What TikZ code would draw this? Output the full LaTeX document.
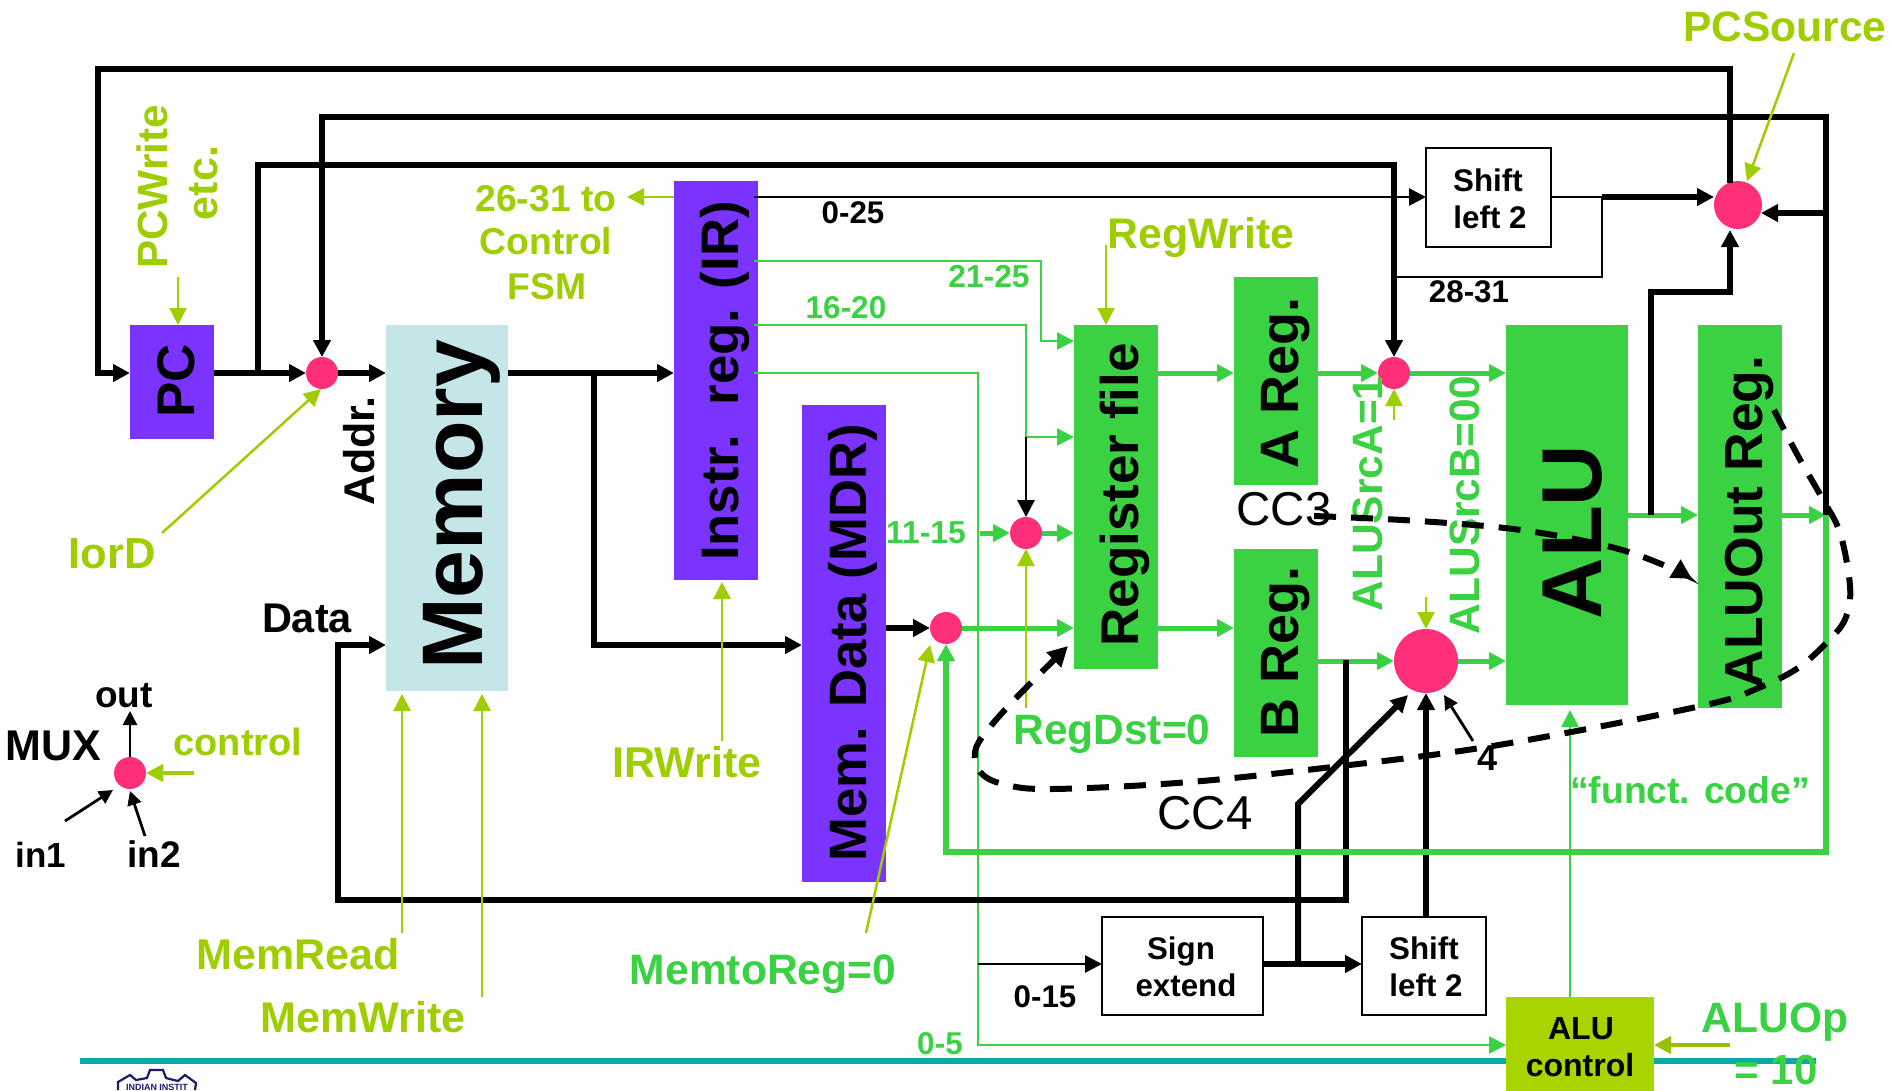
\documentclass[tikz,border=0pt]{standalone}
\usepackage{fontspec}
\setmainfont{Liberation Sans}
\usetikzlibrary{arrows.meta}
\definecolor{pur}{HTML}{7B33FF}
\definecolor{grn}{HTML}{3AD242}
\definecolor{lim}{HTML}{9FCE00}
\definecolor{aluctl}{HTML}{A8D500}
\definecolor{pnk}{HTML}{FF3079}
\definecolor{memc}{HTML}{C4E6E8}
\definecolor{tealc}{HTML}{0AA9A9}
\definecolor{navy}{HTML}{1A1A6E}
\tikzset{
  bx/.style={inner sep=0pt,outer sep=0pt,draw=none},
  whbx/.style={inner sep=0pt,outer sep=0pt,draw=black,line width=2.5pt,fill=white},
  mux/.style={circle,fill=pnk,inner sep=0pt,outer sep=0pt,minimum size=#1},
  lb/.style={inner sep=0pt,outer sep=0pt,anchor=base,font=\fontsize{#1}{#1}\selectfont\bfseries},
  lbreg/.style={inner sep=0pt,outer sep=0pt,anchor=base,font=\fontsize{#1}{#1}\selectfont},
  rl/.style={lb=#1,rotate=90},
  tip/.style={-{Triangle[length=17pt,width=17pt]}},
  smalltip/.style={-{Triangle[length=14pt,width=14pt]}},
  thk/.style={line width=6pt,black},
  thn/.style={line width=2.8pt,black},
  hair/.style={line width=2pt,black},
  gthk/.style={line width=6pt,grn},
  gmid/.style={line width=5pt,grn},
  gthn/.style={line width=2.5pt,grn},
  ctl/.style={line width=2.5pt,lim},
  dsh/.style={line width=6pt,black,dash pattern=on 22pt off 15pt},
}
\begin{document}
\begin{tikzpicture}[x=1pt,y=-1pt,line join=miter,line cap=butt]
\useasboundingbox (0,0) rectangle (1893,1090);
\fill[white] (0,0) rectangle (1893,1090);
% footer rule and logo
\coordinate (ruleL) at (80,1061);
\coordinate (ruleR) at (1816,1061);
\draw[line width=6pt,tealc] (ruleL) -- (ruleR);
\draw[line width=2.2pt,navy] (118,1090) -- (118,1082) -- (130,1075) -- (136,1080) -- (147,1078) -- (150,1070) -- (163,1070) -- (166,1078) -- (178,1081) -- (185,1075) -- (196,1083) -- (195,1090);
\node[lb=9,text=navy] (logotext) at (157,1090) {INDIAN INSTIT};
% boxes
\node[bx,fill=pur,minimum width=84pt,minimum height=114pt] (pc) at (172,382) {};
\node[bx,fill=memc,minimum width=122pt,minimum height=366pt] (mem) at (447,508) {};
\node[bx,fill=pur,minimum width=84pt,minimum height=399pt] (ir) at (716,380.5) {};
\node[bx,fill=pur,minimum width=84pt,minimum height=477pt] (mdr) at (844,643.5) {};
\node[bx,fill=grn,minimum width=84pt,minimum height=344pt] (reg) at (1116,497) {};
\node[bx,fill=grn,minimum width=84pt,minimum height=208pt] (areg) at (1276,381) {};
\node[bx,fill=grn,minimum width=84pt,minimum height=208pt] (breg) at (1276,653) {};
\node[bx,fill=grn,minimum width=122pt,minimum height=380pt] (alu) at (1567,515) {};
\node[bx,fill=grn,minimum width=84pt,minimum height=383pt] (aout) at (1740,516.5) {};
\node[whbx,minimum width=125pt,minimum height=99pt] (shA) at (1488.5,197.5) {};
\node[whbx,minimum width=161pt,minimum height=98pt] (sign) at (1182.5,966) {};
\node[whbx,minimum width=124pt,minimum height=98pt] (shB) at (1424,966) {};
\node[bx,fill=aluctl,minimum width=148pt,minimum height=96pt] (aluc) at (1580,1045) {};
% multiplexers
\node[mux=32pt] (m1) at (322,373) {};
\node[mux=32pt] (m2) at (1394,373) {};
\node[mux=32pt] (m3) at (1026,533) {};
\node[mux=32pt] (m4) at (946,628) {};
\node[mux=64pt] (m5) at (1426,661) {};
\node[mux=48pt] (m6) at (1738,205) {};
\node[mux=32pt] (mx) at (130,773) {};
% routing points
\coordinate (irA) at (754,197);
\coordinate (irB) at (754,261);
\coordinate (irC) at (754,325);
\coordinate (irD) at (754,373);
\coordinate (c21) at (1041,341);
\coordinate (rgA) at (1074,341);
\coordinate (c16) at (1026,437);
\coordinate (rgB) at (1074,437);
\coordinate (c05) at (978,1045);
\coordinate (j015) at (978,964);
\coordinate (jPC) at (258,373);
\coordinate (t165L) at (258,165);
\coordinate (t165R) at (1394,165);
\coordinate (t117L) at (322,117);
\coordinate (t117R) at (1826,117);
\coordinate (t69L) at (98,69);
\coordinate (t69R) at (1730,69);
\coordinate (l373) at (98,373);
\coordinate (m6top) at (1730,183);
\coordinate (m6bot) at (1730,230);
\coordinate (ctr292L) at (1651,292);
\coordinate (ctr292R) at (1730,292);
\coordinate (jALU) at (1651,515);
\coordinate (jOut) at (1826,515);
\coordinate (j213) at (1826,213);
\coordinate (e213) at (1761,213);
\coordinate (j277) at (1394,277);
\coordinate (c277) at (1602,277);
\coordinate (c197) at (1602,197);
\coordinate (jMem) at (594,373);
\coordinate (c645) at (594,645);
\coordinate (jB) at (1346,660);
\coordinate (c900R) at (1346,900);
\coordinate (c900L) at (338,900);
\coordinate (d645) at (338,645);
\coordinate (jSign) at (1298,964);
\coordinate (bend) at (1298,804);
\coordinate (diagEnd) at (1408,695);
\coordinate (fbR) at (1826,852);
\coordinate (fbL) at (946,852);
\coordinate (cuA) at (1570,997);
\coordinate (cuB) at (1570,710);
% thin green buses
\draw[gthn,tip] (irB) -| (c21) -- (rgA);
\draw[gthn,tip] (irC) -| (c16) -- (rgB);
\draw[gthn,tip] (irD) -| (c05) -- (aluc.west |- c05);
\draw[gthn,tip] (cuA) -- (cuB);
% datapath green
\draw[gmid,tip] (reg.east |- m2) -- (areg.west |- m2);
\draw[gmid,tip] (areg.east |- m2) -- (m2.west);
\draw[gmid,tip] (m2.east) -- (alu.west |- m2);
\draw[gmid,tip] (reg.east |- m4) -- (breg.west |- m4);
\draw[gmid,tip] (breg.east |- m5) -- (m5.west);
\draw[gmid,tip] (m5.east) -- (alu.west |- m5);
\draw[gmid,tip] (m4.east) -- (reg.west |- m4);
\draw[gmid,tip] (m3.east) -- (reg.west |- m3);
\coordinate (s115) at (980,533);
\draw[gmid,tip] (s115) -- (m3.west);
\draw[gmid,tip] (alu.east |- jALU) -- (aout.west |- jALU);
\draw[gmid,tip] (aout.east |- jOut) -- (jOut);
% black thick buses
\draw[thk,tip] (jOut) -- (t117R) -- (t117L) -- (m1.north);
\draw[thk,tip] (j213) -- (e213);
\draw[thk,tip] (m6top) -- (t69R) -- (t69L) -- (l373) -- (pc.west |- l373);
\draw[thk,tip] (jPC) -- (t165L) -- (t165R) -- (m2.north);
\draw[thk,tip] (pc.east |- m1) -- (m1.west);
\draw[thk,tip] (m1.east) -- (mem.west |- m1);
\draw[thk,tip] (mem.east |- m1) -- (ir.west |- m1);
\draw[thk,tip] (jMem) -- (c645) -- (mdr.west |- c645);
\draw[thk,tip] (mdr.east |- m4) -- (m4.west);
\draw[thk,tip] (c900R |- jB) -- (c900R) -- (c900L) -- (d645) -- (mem.west |- d645);
\draw[thk,tip] (jALU) -- (ctr292L) -- (ctr292R) -- (m6bot);
\draw[thk,tip] (sign.east |- jSign) -- (shB.west |- jSign);
\draw[thk,tip] (jSign) -- (bend) -- (diagEnd);
\draw[thk,tip] (shB.north -| m5) -- (m5.south);
\draw[thk,tip] (c197) -- (m6.west |- c197);
% thin black
\draw[thn,tip] (irA) -- (shA.west |- irA);
\draw[hair] (shA.east |- c197) -- (c197) -- (c277) -- (j277);
\draw[thn,tip] (c16) -- (m3.north);
\draw[thn,tip] (j015) -- (sign.west |- j015);
\coordinate (four) at (1473,741);
\coordinate (fourE) at (1444,695);
\draw[thn,smalltip] (four) -- (fourE);
\draw[thn,smalltip] (mx.north) -- ++(0,-46);
\coordinate (in1s) at (65,821);
\coordinate (in1e) at (113,790);
\draw[thn,smalltip] (in1s) -- (in1e);
\coordinate (in2s) at (145,836);
\coordinate (in2e) at (130,791);
\draw[thn,smalltip] (in2s) -- (in2e);
% feedback green over black
\draw[gthk,tip] (jOut) -- (fbR) -- (fbL) -- (m4.south);
% control lines
\coordinate (cPCa) at (178,277); \coordinate (cPCb) at (178,325);
\draw[ctl,tip] (cPCa) -- (cPCb);
\coordinate (cIa) at (162,533); \coordinate (cIb) at (321,389);
\draw[ctl,tip] (cIa) -- (cIb);
\coordinate (cFa) at (627,197);
\draw[ctl,tip] (ir.west |- cFa) -- (cFa);
\coordinate (cMRa) at (402,933); \coordinate (cMRb) at (402,694);
\draw[ctl,tip] (cMRa) -- (cMRb);
\coordinate (cMWa) at (482,997); \coordinate (cMWb) at (482,694);
\draw[ctl,tip] (cMWa) -- (cMWb);
\coordinate (cIRa) at (722,741); \coordinate (cIRb) at (722,582);
\draw[ctl,tip] (cIRa) -- (cIRb);
\coordinate (cTRa) at (866,933); \coordinate (cTRb) at (930,645);
\draw[ctl,tip] (cTRa) -- (cTRb);
\coordinate (cRWa) at (1106,245); \coordinate (cRWb) at (1106,325);
\draw[ctl,tip] (cRWa) -- (cRWb);
\coordinate (cPSa) at (1794,53); \coordinate (cPSb) at (1747,181);
\draw[ctl,tip] (cPSa) -- (cPSb);
\coordinate (cSAa) at (1394,420);
\draw[ctl,tip] (cSAa) -- (m2.south);
\coordinate (cSBa) at (1426,597);
\draw[ctl,tip] (cSBa) -- (m5.north);
\coordinate (cRDa) at (1026,708);
\draw[ctl,tip] (cRDa) -- (m3.south);
\coordinate (cMXa) at (194,773);
\draw[line width=4pt,lim,tip] (cMXa) -- (mx.east);
\coordinate (cAOa) at (1730,1045);
\draw[line width=4pt,aluctl!90!black,tip] (cAOa) -- (aluc.east |- cAOa);
% rotated labels
\node[rl=53] (tPC) at (194,381) {PC};
\node[rl=86] (tMem) at (482,505) {Memory};
\node[rl=43] (tAddr) at (374,451) {Addr.};
\node[rl=52.8] (tIR) at (738,381) {Instr.\ \ reg. (IR)};
\node[rl=52.6] (tMDR) at (866,643) {Mem. Data (MDR)};
\node[rl=53] (tRF) at (1138,495) {Register file};
\node[rl=54] (tA) at (1298,383) {A Reg.};
\node[rl=54] (tB) at (1298,652) {B Reg.};
\node[rl=85] (tALU) at (1601,532) {ALU};
\node[rl=53.5] (tOut) at (1762,522) {ALUOut Reg.};
\node[rl=42.5,text=grn] (tSA) at (1382,494) {ALUSrcA=1};
\node[rl=42.5,text=grn] (tSB) at (1479,505) {ALUSrcB=00};
\node[rl=42.3,text=lim] (tPW) at (167,187) {PCWrite};
\node[rl=43,text=lim] (tEtc) at (217,183) {etc.};
% horizontal control labels
\node[lb=37.3,text=lim] (t26) at (546,211) {26-31 to};
\node[lb=37.3,text=lim] (tCtl) at (546,254) {Control};
\node[lb=37.3,text=lim] (tFSM) at (547,299) {FSM};
\node[lb=43.5,text=lim] (tIorD) at (112,568) {IorD};
\node[lb=42.8,text=lim] (tRW) at (1201,248) {RegWrite};
\node[lb=42.5,text=lim] (tPS) at (1785,41) {PCSource};
\node[lb=38,text=lim] (tCon) at (238,755) {control};
\node[lb=43,text=lim] (tIRW) at (687,777) {IRWrite};
\node[lb=43,text=lim] (tMR) at (298,969) {MemRead};
\node[lb=43,text=lim] (tMW) at (363,1032) {MemWrite};
\node[lb=42.6,text=grn] (tMTR) at (763,984) {MemtoReg=0};
\node[lb=42.5,text=grn] (tRD) at (1112,744) {RegDst=0};
\node[lb=37.3,text=grn] (tFC) at (1690,803) {“funct. code”};
\node[lb=42.5,text=grn] (tOp) at (1775,1032) {ALUOp};
\node[lb=42,text=grn] (tOp2) at (1776,1084) {= 10};
\node[lb=31.8,text=grn] (t2125) at (989,287) {21-25};
\node[lb=31.5,text=grn] (t1620) at (846,318) {16-20};
\node[lb=31.8,text=grn] (t1115) at (926,543) {11-15};
\node[lb=31.5,text=grn] (t05) at (940,1054) {0-5};
% black labels
\node[lb=31.3] (t025) at (853,223) {0-25};
\node[lb=31.3] (t2831) at (1469,302) {28-31};
\node[lb=31.3] (t015) at (1045,1007) {0-15};
\node[lb=31.3] (tS1) at (1488,191) {Shift};
\node[lb=31.3] (tS2) at (1490,228) {left 2};
\node[lb=31.3] (tSg1) at (1181,959) {Sign};
\node[lb=31.3] (tSg2) at (1186,996) {extend};
\node[lb=31.3] (tS3) at (1424,959) {Shift};
\node[lb=31.3] (tS4) at (1426,996) {left 2};
\node[lb=32] (tAC1) at (1581,1039) {ALU};
\node[lb=32] (tAC2) at (1580,1076) {control};
\node[lb=41.5] (tData) at (307,632) {Data};
\node[lb=43] (tMUX) at (53,760) {MUX};
\node[lb=37] (tOutL) at (124,707) {out};
\node[lb=35] (tIn1) at (41,867) {in1};
\node[lb=37] (tIn2) at (154,867) {in2};
\node[lb=36] (tFour) at (1487,770) {4};
\node[lbreg=47.5] (tCC3) at (1284,525) {CC3};
\node[lbreg=47.5] (tCC4) at (1205,829) {CC4};
% state-transition dashed curves
\draw[dsh,-{Triangle[length=20pt,width=20pt]}] plot[smooth,tension=0.6] coordinates {(1314,516) (1419,521) (1521,530) (1611,547) (1666,566) (1692,579)};
\draw[dsh,-{Triangle[length=20pt,width=20pt]}] plot[smooth,tension=0.6] coordinates {(1774,410) (1798,456) (1822,498) (1840,533) (1850,586) (1846,617) (1831,638) (1798,668) (1756,689) (1714,703) (1587,729) (1467,750) (1341,766) (1190,782) (1052,789) (1003,784) (980,772) (975,752) (986,732) (1016,698) (1068,646)};
\end{tikzpicture}
\end{document}
